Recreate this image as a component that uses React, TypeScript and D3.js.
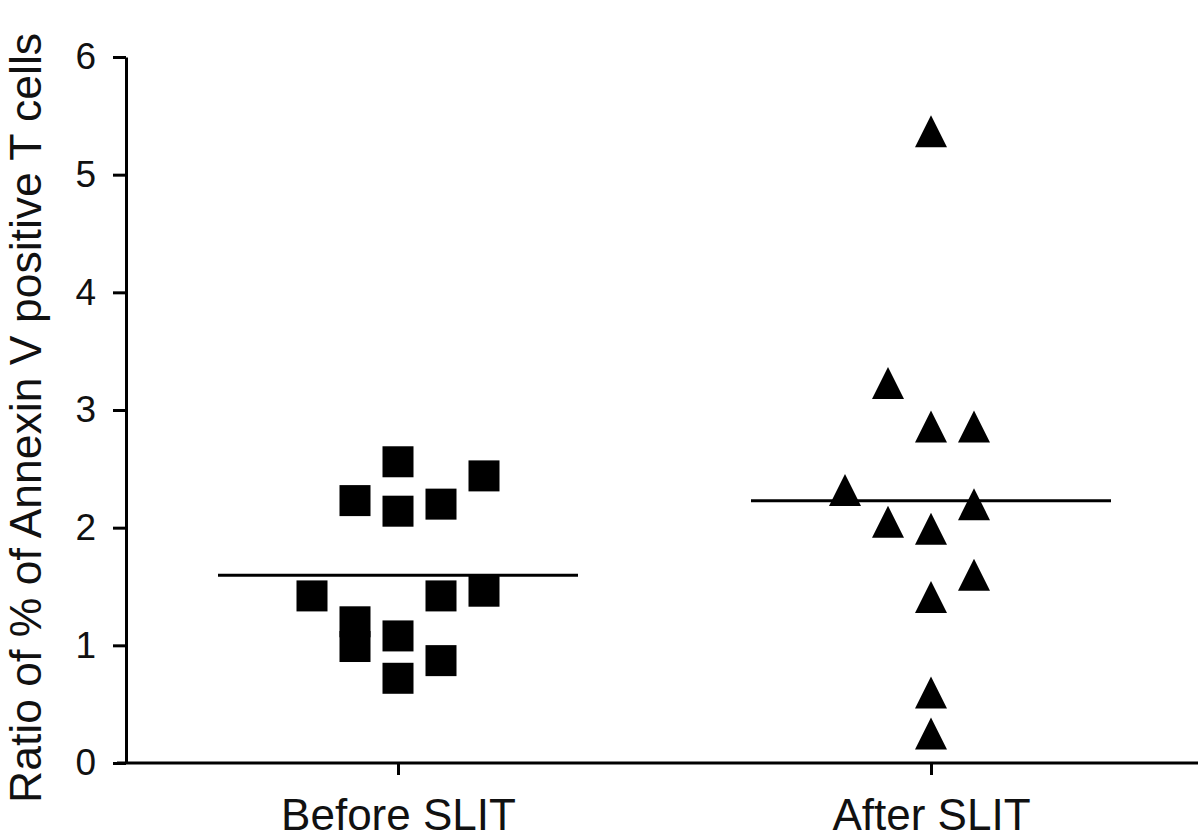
import React, { useEffect, useRef } from "react"
import * as d3 from "d3"

const categories = ["Before SLIT", "After SLIT"]
const beforeValues = [2.56, 2.23, 2.14, 2.2, 2.44, 1.42, 1.2, 0.99, 1.08, 0.72, 1.42, 0.87, 1.46]
const beforeSlots = [0, -1, 0, 1, 2, -2, -1, -1, 0, 0, 1, 1, 2]
const afterValues = [5.37, 3.23, 2.86, 2.86, 2.32, 2.2, 2.05, 1.99, 1.6, 1.41, 0.6, 0.25]
const afterSlots = [0, -1, 0, 1, -2, 1, -1, 0, 1, 0, 0, 0]
const yTicks = [0, 1, 2, 3, 4, 5, 6]
const yTitle = "Ratio of % of Annexin V positive T cells"

const width = 1200
const height = 838
const font = "'Liberation Sans', Arial, sans-serif"

export default function App() {
    const ref = useRef(null)

    useEffect(() => {
        const svg = d3.select(ref.current)
        svg.selectAll("*").remove()

        const axisLeftX = 126
        const axisBottomY = 763

        const y = d3.scaleLinear().domain([0, 6]).range([axisBottomY, 57])
        const x = d3.scalePoint().domain(categories).range([398, 931])
        const slot = d3.scaleLinear().domain([-2, 2]).range([-86, 86])

        // y axis
        const yAxis = svg.append("g")
            .attr("transform", `translate(${axisLeftX},0)`)
            .call(d3.axisLeft(y).tickValues(yTicks).tickSize(13).tickSizeOuter(0).tickPadding(17).tickFormat(d3.format("d")))
        yAxis.selectAll("line, path").attr("stroke", "#000").attr("stroke-width", 3)
        yAxis.selectAll("text").attr("font-family", font).attr("font-size", 37).attr("fill", "#111")

        // x axis
        const xAxis = svg.append("g")
            .attr("transform", `translate(0,${axisBottomY})`)
            .call(d3.axisBottom(x).tickSize(12).tickSizeOuter(0).tickPadding(24))
        xAxis.select(".domain").remove()
        xAxis.selectAll("line").attr("stroke", "#000").attr("stroke-width", 3)
        xAxis.selectAll("text").attr("font-family", font).attr("font-size", 44).attr("fill", "#111")
        xAxis.append("line")
            .attr("x1", 117).attr("x2", 1198)
            .attr("y1", 0).attr("y2", 0)
            .attr("stroke", "#000").attr("stroke-width", 3)

        // y title
        svg.append("text")
            .attr("transform", "rotate(-90)")
            .attr("x", -803)
            .attr("y", 41)
            .attr("font-family", font)
            .attr("font-size", 44.5)
            .attr("fill", "#111")
            .text(yTitle)

        // mean lines
        const means = [d3.mean(beforeValues), d3.mean(afterValues)]
        svg.selectAll(".mean")
            .data(means)
            .enter().append("line")
            .attr("class", "mean")
            .attr("x1", (d, i) => x(categories[i]) - 180)
            .attr("x2", (d, i) => x(categories[i]) + 180)
            .attr("y1", d => y(d))
            .attr("y2", d => y(d))
            .attr("stroke", "#000")
            .attr("stroke-width", 3)

        // squares
        const sq = 31
        const before = beforeValues.map((v, i) => ({ v, s: beforeSlots[i] }))
        svg.selectAll(".sq")
            .data(before)
            .enter().append("rect")
            .attr("class", "sq")
            .attr("x", d => x(categories[0]) + slot(d.s) - sq / 2)
            .attr("y", d => y(d.v) - sq / 2)
            .attr("width", sq)
            .attr("height", sq)
            .attr("fill", "#000")

        // triangles
        const tw = 32
        const th = 32
        const after = afterValues.map((v, i) => ({ v, s: afterSlots[i] }))
        svg.selectAll(".tri")
            .data(after)
            .enter().append("path")
            .attr("class", "tri")
            .attr("transform", d => `translate(${x(categories[1]) + slot(d.s)},${y(d.v)})`)
            .attr("d", `M0,${-th / 2}L${tw / 2},${th / 2}L${-tw / 2},${th / 2}Z`)
            .attr("fill", "#000")
    }, [])

    return (
        <svg
            ref={ref}
            width={width}
            height={height}
            style={{ position: "absolute", left: 0, top: 0, background: "#fff" }}
        />
    )
}
